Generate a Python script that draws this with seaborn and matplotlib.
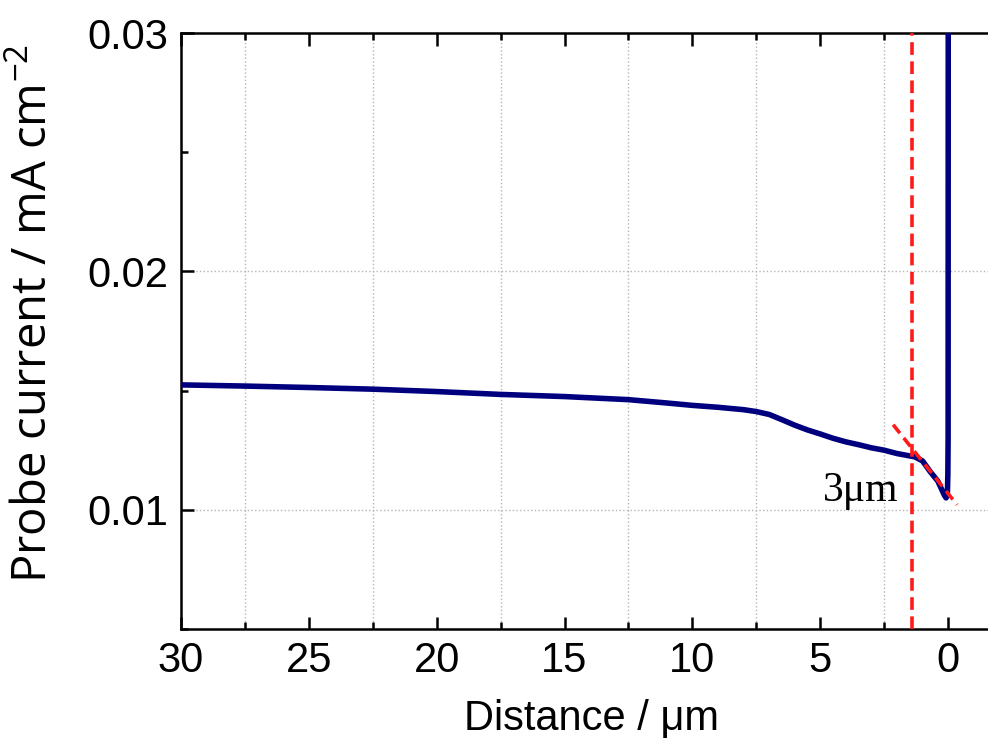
import numpy as np
import pandas as pd
import seaborn as sns
import matplotlib.pyplot as plt
from matplotlib.ticker import MultipleLocator

# --- probe current profile (distance in um, current in mA cm-2) ---
distance = [30.0, 27.5, 25.0, 22.5, 20.0, 17.5, 15.0, 12.5, 11.0, 10.0, 9.0, 8.0,
            7.5, 7.0, 6.5, 6.0, 5.5, 5.0, 4.5, 4.0, 3.5, 3.0, 2.5, 2.0, 1.5, 1.3,
            1.0, 0.7, 0.4, 0.15, 0.08, 0.03, 0.01, 0.0, -0.005]
current = [0.01524, 0.01519, 0.01513, 0.01506, 0.01496, 0.01484, 0.01475, 0.01462,
           0.01448, 0.01438, 0.01430, 0.01420, 0.01412, 0.01400, 0.01378, 0.01355,
           0.01335, 0.01318, 0.01300, 0.01285, 0.01273, 0.01260, 0.01250, 0.01236,
           0.01226, 0.01222, 0.01205, 0.01160, 0.01120, 0.01062, 0.01050, 0.01060,
           0.01150, 0.01300, 0.03100]

# red guide lines
guide_x = 1.4
tangent_x = [2.15, -0.35]
tangent_y = [0.01357, 0.01021]

# annotation
label_text = '3\u03bcm'
label_pos = (4.88, 0.01038)

df = pd.DataFrame({'distance': distance, 'current': current})

sns.set_style('ticks')
plt.rcParams['font.family'] = ['Liberation Sans', 'DejaVu Sans']
plt.rcParams['mathtext.fontset'] = 'custom'
plt.rcParams['mathtext.rm'] = 'Open Sans'
plt.rcParams['mathtext.it'] = 'Open Sans'
plt.rcParams['text.color'] = 'black'
plt.rcParams['axes.labelcolor'] = 'black'
plt.rcParams['xtick.color'] = 'black'
plt.rcParams['ytick.color'] = 'black'

fig = plt.figure(figsize=(9.88, 7.45), dpi=100)
ax = fig.add_axes([181 / 988, 1 - 629 / 745, 1 - 181 / 988, 596 / 745])

sns.lineplot(data=df, x='distance', y='current', ax=ax, color='#00007f',
             linewidth=4.0, sort=False, estimator=None, zorder=3)

ax.axvline(guide_x, color='#ff1a1a', linewidth=2.6, dashes=(3.5, 1.8), zorder=4)
ax.plot(tangent_x, tangent_y, color='#ff1a1a', linewidth=2.6, dashes=(3.0, 1.7), zorder=4)

ax.text(label_pos[0], label_pos[1], label_text, family='Liberation Serif',
        fontsize=30, ha='left', va='baseline', color='black')

ax.set_xlim(30, -1.56)
ax.set_ylim(0.005, 0.03)
ax.xaxis.set_minor_locator(MultipleLocator(2.5))
ax.yaxis.set_minor_locator(MultipleLocator(0.005))
ax.set_xticks([30, 25, 20, 15, 10, 5, 0])
ax.set_yticks([0.01, 0.02, 0.03])
ax.set_yticklabels(['0.01', '0.02', '0.03'])

# grid: vertical at minor x ticks, horizontal at major y ticks
ax.grid(False)
ax.xaxis.grid(True, which='minor', linestyle=':', color='#b5b5b5', linewidth=1.0)
ax.yaxis.grid(True, which='major', linestyle=':', color='#b5b5b5', linewidth=1.0)
ax.set_axisbelow(True)

ax.tick_params(axis='both', which='both', direction='in', top=True, right=False,
               width=1.8, labelsize=30, pad=9)
ax.tick_params(axis='both', which='major', length=9)
ax.tick_params(axis='both', which='minor', length=5)

for side in ['left', 'bottom', 'top']:
    ax.spines[side].set_linewidth(1.8)
    ax.spines[side].set_color('black')
ax.spines['right'].set_visible(False)

ax.set_xlabel('Distance / \u03bcm', fontsize=30)
ax.set_ylabel('Probe current / mA cm$^{-2}$', fontsize=34, family='Open Sans')
ax.xaxis.set_label_coords(0.509, -0.118)
ax.yaxis.set_label_coords(-0.153, 0.53)

fig.savefig('out.png', dpi=100)
